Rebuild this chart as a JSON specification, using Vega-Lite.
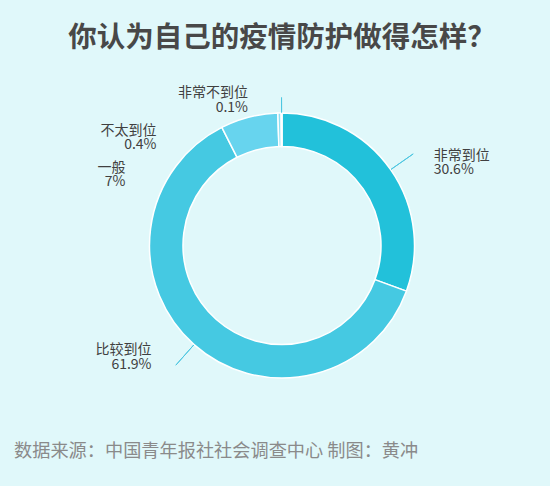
{
  "$schema": "https://vega.github.io/schema/vega-lite/v6.json",
  "background": "#e0f8fa",
  "padding": {"left": 14, "top": 5, "right": 0, "bottom": 0},
  "config": {
    "view": {"stroke": null},
    "concat": {"spacing": 0},
    "font": "Noto Sans CJK SC"
  },
  "title": {
    "text": "你认为自己的疫情防护做得怎样？",
    "font": "Noto Sans CJK SC",
    "fontSize": 28.5,
    "fontWeight": "bold",
    "color": "#484848",
    "anchor": "middle",
    "offset": -47,
    "dx": 0
  },
  "data": {
    "values": [
      {"cat": "非常到位", "pct": 0.306, "idx": 1},
      {"cat": "比较到位", "pct": 0.619, "idx": 2},
      {"cat": "一般", "pct": 0.07, "idx": 3},
      {"cat": "不太到位", "pct": 0.004, "idx": 4},
      {"cat": "非常不到位", "pct": 0.001, "idx": 5}
    ]
  },
  "vconcat": [
    {
      "width": 536,
      "height": 481,
      "title": {
        "text": "数据来源：中国青年报社社会调查中心 制图：黄冲",
        "orient": "bottom",
        "anchor": "start",
        "font": "Noto Sans CJK SC",
        "fontSize": 18.2,
        "fontWeight": "normal",
        "color": "#8a8a8a",
        "baseline": "alphabetic",
        "offset": -29,
        "dx": 0
      },
      "layer": [
        {
          "mark": {"type": "arc", "radius": 132.5, "radius2": 99, "stroke": "#ffffff", "strokeWidth": 1.5},
          "encoding": {
            "theta": {"field": "pct", "type": "quantitative", "stack": true, "scale": {"domain": [0, 1]}},
            "color": {
              "field": "cat",
              "type": "nominal",
              "scale": {
                "domain": ["非常到位", "比较到位", "一般", "不太到位", "非常不到位"],
                "range": ["#22c1da", "#45c9e2", "#67d4ee", "#8fdff2", "#b5ebf7"]
              },
              "legend": null
            },
            "order": {"field": "idx", "type": "quantitative"}
          }
        },
        {
          "transform": [
            {"stack": "pct", "groupby": [], "sort": [{"field": "idx", "order": "ascending"}], "as": ["t0", "t1"]},
            {"fold": ["t0", "t1"], "as": ["k", "tv"]},
            {"aggregate": [{"op": "mean", "field": "tv", "as": "mid"}], "groupby": ["cat", "pct", "idx"]}
          ],
          "layer": [
            {
              "transform": [{"filter": {"field": "cat", "oneOf": ["非常到位", "比较到位"]}}],
              "mark": {"type": "arc", "radius": 160, "radius2": 133, "filled": false, "stroke": "#4ec7e1", "strokeWidth": 1},
              "encoding": {
                "theta": {"field": "mid", "type": "quantitative", "stack": null, "scale": {"domain": [0, 1]}},
                "theta2": {"field": "mid"}
              }
            },
            {
              "transform": [{"filter": {"field": "cat", "equal": "非常不到位"}}],
              "mark": {"type": "arc", "radius": 148, "radius2": 133, "filled": false, "stroke": "#4ec7e1", "strokeWidth": 1},
              "encoding": {
                "theta": {"field": "mid", "type": "quantitative", "stack": null, "scale": {"domain": [0, 1]}},
                "theta2": {"field": "mid"}
              }
            },
            {
              "transform": [{"filter": {"field": "cat", "equal": "非常到位"}}],
              "layer": [
                {
                  "mark": {"type": "text", "radius": 160, "align": "left", "baseline": "alphabetic", "dx": 20.5, "dy": 6, "fontSize": 14, "font": "Noto Sans CJK SC", "color": "#404040"},
                  "encoding": {"theta": {"field": "mid", "type": "quantitative", "stack": null, "scale": {"domain": [0, 1]}}, "text": {"field": "cat"}}
                },
                {
                  "mark": {"type": "text", "radius": 160, "align": "left", "baseline": "alphabetic", "dx": 20.5, "dy": 20.5, "fontSize": 14, "font": "Noto Sans CJK SC", "color": "#404040"},
                  "encoding": {"theta": {"field": "mid", "type": "quantitative", "stack": null, "scale": {"domain": [0, 1]}}, "text": {"field": "pct", "type": "quantitative", "format": ".1~%"}}
                }
              ]
            },
            {
              "transform": [{"filter": {"field": "cat", "equal": "比较到位"}}],
              "layer": [
                {
                  "mark": {"type": "text", "radius": 160, "align": "right", "baseline": "alphabetic", "dx": -24.3, "dy": -10.7, "fontSize": 14, "font": "Noto Sans CJK SC", "color": "#404040"},
                  "encoding": {"theta": {"field": "mid", "type": "quantitative", "stack": null, "scale": {"domain": [0, 1]}}, "text": {"field": "cat"}}
                },
                {
                  "mark": {"type": "text", "radius": 160, "align": "right", "baseline": "alphabetic", "dx": -24.3, "dy": 3.8, "fontSize": 14, "font": "Noto Sans CJK SC", "color": "#404040"},
                  "encoding": {"theta": {"field": "mid", "type": "quantitative", "stack": null, "scale": {"domain": [0, 1]}}, "text": {"field": "pct", "type": "quantitative", "format": ".1~%"}}
                }
              ]
            },
            {
              "transform": [{"filter": {"field": "cat", "equal": "一般"}}],
              "layer": [
                {
                  "mark": {"type": "text", "radius": 160, "align": "right", "baseline": "alphabetic", "dx": -116.7, "dy": 81.5, "fontSize": 14, "font": "Noto Sans CJK SC", "color": "#404040"},
                  "encoding": {"theta": {"field": "mid", "type": "quantitative", "stack": null, "scale": {"domain": [0, 1]}}, "text": {"field": "cat"}}
                },
                {
                  "mark": {"type": "text", "radius": 160, "align": "right", "baseline": "alphabetic", "dx": -116.7, "dy": 95.5, "fontSize": 14, "font": "Noto Sans CJK SC", "color": "#404040"},
                  "encoding": {"theta": {"field": "mid", "type": "quantitative", "stack": null, "scale": {"domain": [0, 1]}}, "text": {"field": "pct", "type": "quantitative", "format": ".1~%"}}
                }
              ]
            },
            {
              "transform": [{"filter": {"field": "cat", "equal": "不太到位"}}],
              "layer": [
                {
                  "mark": {"type": "text", "radius": 160, "align": "right", "baseline": "alphabetic", "dx": -122.5, "dy": 49, "fontSize": 14, "font": "Noto Sans CJK SC", "color": "#404040"},
                  "encoding": {"theta": {"field": "mid", "type": "quantitative", "stack": null, "scale": {"domain": [0, 1]}}, "text": {"field": "cat"}}
                },
                {
                  "mark": {"type": "text", "radius": 160, "align": "right", "baseline": "alphabetic", "dx": -122.5, "dy": 63, "fontSize": 14, "font": "Noto Sans CJK SC", "color": "#404040"},
                  "encoding": {"theta": {"field": "mid", "type": "quantitative", "stack": null, "scale": {"domain": [0, 1]}}, "text": {"field": "pct", "type": "quantitative", "format": ".1~%"}}
                }
              ]
            },
            {
              "transform": [{"filter": {"field": "cat", "equal": "非常不到位"}}],
              "layer": [
                {
                  "mark": {"type": "text", "radius": 160, "align": "right", "baseline": "alphabetic", "dx": -33.5, "dy": 11.5, "fontSize": 14, "font": "Noto Sans CJK SC", "color": "#404040"},
                  "encoding": {"theta": {"field": "mid", "type": "quantitative", "stack": null, "scale": {"domain": [0, 1]}}, "text": {"field": "cat"}}
                },
                {
                  "mark": {"type": "text", "radius": 160, "align": "right", "baseline": "alphabetic", "dx": -33.5, "dy": 26, "fontSize": 14, "font": "Noto Sans CJK SC", "color": "#404040"},
                  "encoding": {"theta": {"field": "mid", "type": "quantitative", "stack": null, "scale": {"domain": [0, 1]}}, "text": {"field": "pct", "type": "quantitative", "format": ".1~%"}}
                }
              ]
            }
          ]
        }
      ]
    }
  ]
}
